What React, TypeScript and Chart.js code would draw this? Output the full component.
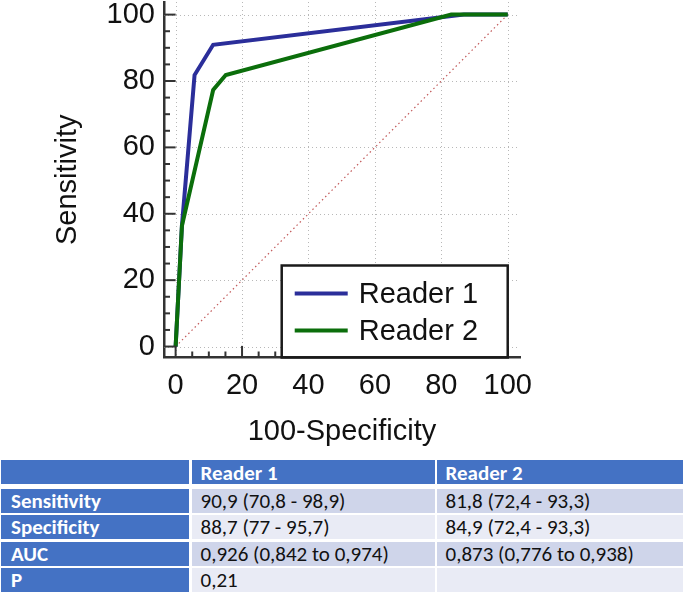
import React, { useEffect, useRef } from 'react';
import { Chart, registerables } from 'chart.js';

Chart.register(...registerables);

// ---- chart data ----
const seriesLabels = ['Reader 1', 'Reader 2'];
const seriesColors = ['#2b2e9a', '#0b6e0b'];
const reader1X = [0, 1.9, 5.7, 11.3, 86.8, 100];
const reader1Y = [0, 36.4, 81.8, 90.9, 100, 100];
const reader2X = [0, 1.9, 11.3, 15.1, 83.0, 100];
const reader2Y = [0, 36.4, 77.3, 81.8, 100, 100];
const diagonalX = [0, 100];
const diagonalY = [0, 100];
const tickValues = [0, 20, 40, 60, 80, 100];
const minorStep = 5;
const xTitle = '100-Specificity';
const yTitle = 'Sensitivity';

// ---- table data ----
const tableHeaders = ['', 'Reader 1', 'Reader 2'];
const rowLabels = ['Sensitivity', 'Specificity', 'AUC', 'P'];
const reader1Stats = ['90,9 (70,8 - 98,9)', '88,7 (77 - 95,7)', '0,926 (0,842 to 0,974)', '0,21'];
const reader2Stats = ['81,8 (72,4 - 93,3)', '84,9 (72,4 - 93,3)', '0,873 (0,776 to 0,938)', ''];

const AXIS_FONT = "'Liberation Sans', Arial, Helvetica, sans-serif";
const TABLE_FONT = "Carlito, Calibri, Lato, 'Open Sans', sans-serif";

const toPoints = (xs: number[], ys: number[]) => xs.map((x, i) => ({ x, y: ys[i] }));

export default function App() {
  const canvasRef = useRef<HTMLCanvasElement>(null);

  useEffect(() => {
    const canvas = canvasRef.current;
    if (!canvas) return;

    const decor = {
      id: 'rocDecor',
      beforeDatasetsDraw(chart: any) {
        const { ctx, chartArea: a, scales } = chart;
        const x = scales.x;
        const y = scales.y;
        ctx.save();
        ctx.strokeStyle = '#b8b8b8';
        ctx.lineWidth = 1;
        ctx.setLineDash([1, 3]);
        for (const v of tickValues) {
          const px = Math.round(x.getPixelForValue(v)) + 0.5;
          ctx.beginPath();
          ctx.moveTo(px, a.top);
          ctx.lineTo(px, a.bottom);
          ctx.stroke();
          const py = Math.round(y.getPixelForValue(v)) + 0.5;
          ctx.beginPath();
          ctx.moveTo(a.left, py);
          ctx.lineTo(a.right, py);
          ctx.stroke();
        }
        ctx.restore();
      },
      afterDatasetsDraw(chart: any) {
        const { ctx, chartArea: a, scales } = chart;
        const x = scales.x;
        const y = scales.y;
        ctx.save();
        // inward tick marks
        ctx.strokeStyle = '#333';
        ctx.lineWidth = 2;
        ctx.setLineDash([]);
        const majorLen = x.getPixelForValue(0) - a.left;
        for (let v = 0; v <= 100; v += minorStep) {
          const major = tickValues.includes(v);
          const len = major ? majorLen : 6;
          const px = x.getPixelForValue(v);
          ctx.beginPath();
          ctx.moveTo(px, a.bottom);
          ctx.lineTo(px, a.bottom - len);
          ctx.stroke();
          const py = y.getPixelForValue(v);
          ctx.beginPath();
          ctx.moveTo(a.left, py);
          ctx.lineTo(a.left + len, py);
          ctx.stroke();
        }
        // legend box
        const right = x.getPixelForValue(100);
        const left = right - 226;
        const top = a.bottom - 92;
        const bottom = a.bottom;
        ctx.fillStyle = '#ffffff';
        ctx.fillRect(left, top, right - left, bottom - top - 1.5);
        ctx.strokeStyle = '#1a1a1a';
        ctx.lineWidth = 2.5;
        ctx.strokeRect(left, top, right - left, bottom - top);
        ctx.font = `29px ${AXIS_FONT}`;
        ctx.textBaseline = 'middle';
        ctx.textAlign = 'left';
        chart.data.datasets.slice(0, 2).forEach((ds: any, i: number) => {
          const cy = top + 28 + i * 37;
          ctx.strokeStyle = ds.borderColor;
          ctx.lineWidth = 4;
          ctx.beginPath();
          ctx.moveTo(left + 13, cy);
          ctx.lineTo(left + 66, cy);
          ctx.stroke();
          ctx.fillStyle = '#111';
          ctx.fillText(ds.label, left + 77, cy + 1);
        });
        ctx.restore();
      },
    };

    const zeroPad = (s: any) => {
      s.paddingTop = 0;
      s.paddingBottom = 0;
      s.paddingLeft = 0;
      s.paddingRight = 0;
    };

    const chart = new Chart(canvas, {
      type: 'line',
      data: {
        datasets: [
          {
            label: seriesLabels[0],
            data: toPoints(reader1X, reader1Y),
            borderColor: seriesColors[0],
            backgroundColor: seriesColors[0],
            borderWidth: 4,
            pointRadius: 0,
            tension: 0,
            order: 1,
          },
          {
            label: seriesLabels[1],
            data: toPoints(reader2X, reader2Y),
            borderColor: seriesColors[1],
            backgroundColor: seriesColors[1],
            borderWidth: 4,
            pointRadius: 0,
            tension: 0,
            order: 0,
          },
          {
            label: 'Reference',
            data: toPoints(diagonalX, diagonalY),
            borderColor: '#c25a5a',
            borderWidth: 1.2,
            borderDash: [1.5, 3],
            pointRadius: 0,
            tension: 0,
            order: 2,
          },
        ],
      },
      options: {
        responsive: false,
        animation: false,
        devicePixelRatio: 1,
        layout: { padding: { top: 2, right: 165, left: 0, bottom: 0 } },
        plugins: {
          legend: { display: false },
          tooltip: { enabled: false },
        },
        scales: {
          x: {
            type: 'linear',
            position: 'bottom',
            min: -3.5,
            max: 103.7,
            afterBuildTicks: (s: any) => {
              s.ticks = tickValues.map((v) => ({ value: v }));
            },
            afterFit: (s: any) => {
              s.height = 92.5;
              zeroPad(s);
            },
            grid: { display: true, color: 'rgba(0,0,0,0)', drawTicks: false },
            border: { display: true, color: '#333', width: 2.5 },
            ticks: {
              font: { family: AXIS_FONT, size: 29 },
              color: '#111',
              padding: 11,
              maxRotation: 0,
              autoSkip: false,
            },
            title: {
              display: true,
              text: xTitle,
              font: { family: AXIS_FONT, size: 29 },
              color: '#111',
              padding: { top: 0, bottom: 1 },
            },
          },
          y: {
            type: 'linear',
            position: 'left',
            min: -3.3,
            max: 103.8,
            afterBuildTicks: (s: any) => {
              s.ticks = tickValues.map((v) => ({ value: v }));
            },
            afterFit: (s: any) => {
              s.width = 164;
              zeroPad(s);
            },
            grid: { display: true, color: 'rgba(0,0,0,0)', drawTicks: false },
            border: { display: true, color: '#333', width: 2.5 },
            ticks: {
              font: { family: AXIS_FONT, size: 29 },
              color: '#111',
              padding: 9,
              autoSkip: false,
            },
            title: {
              display: true,
              text: yTitle,
              font: { family: AXIS_FONT, size: 29 },
              color: '#111',
              padding: { top: 51, bottom: 0 },
            },
          },
        },
      },
      plugins: [decor],
    } as any);

    return () => chart.destroy();
  }, []);

  const colLefts = [1, 191.5, 436.5];
  const colWidths = [188, 243.5, 246.5];
  const headerTop = 460;
  const headerHeight = 23.5;
  const bodyTop = 489;
  const rowPitch = 26.4;
  const rowHeight = 24;
  const blue = '#4472c4';
  const bands = ['#cfd5ea', '#e9ebf5'];

  const cellStyle = (left: number, top: number, width: number, height: number, bg: string): React.CSSProperties => ({
    position: 'absolute',
    left,
    top,
    width,
    height,
    background: bg,
    display: 'flex',
    alignItems: 'center',
    boxSizing: 'border-box',
    paddingLeft: 10,
    fontFamily: TABLE_FONT,
    fontSize: 21,
    whiteSpace: 'nowrap',
    overflow: 'hidden',
  });

  return (
    <div style={{ position: 'absolute', left: 0, top: 0, width: 685, height: 596, background: '#fff' }}>
      <canvas ref={canvasRef} width={685} height={450} style={{ position: 'absolute', left: 0, top: 0, width: 685, height: 450 }} />
      {tableHeaders.map((h, c) => (
        <div key={'h' + c} style={{ ...cellStyle(colLefts[c], headerTop, colWidths[c], headerHeight, blue), color: '#fff', fontWeight: 700, paddingLeft: 9, paddingTop: 2 }}>
          {h}
        </div>
      ))}
      {rowLabels.map((label, r) => {
        const top = bodyTop + r * rowPitch;
        const bg = bands[r % 2];
        return (
          <React.Fragment key={'r' + r}>
            <div style={{ ...cellStyle(colLefts[0], top, colWidths[0], rowHeight, blue), color: '#fff', fontWeight: 700 }}>{label}</div>
            <div style={{ ...cellStyle(colLefts[1], top, colWidths[1], rowHeight, bg), color: '#111', paddingLeft: 9 }}>{reader1Stats[r]}</div>
            <div style={{ ...cellStyle(colLefts[2], top, colWidths[2], rowHeight, bg), color: '#111', paddingLeft: 9 }}>{reader2Stats[r]}</div>
          </React.Fragment>
        );
      })}
    </div>
  );
}
